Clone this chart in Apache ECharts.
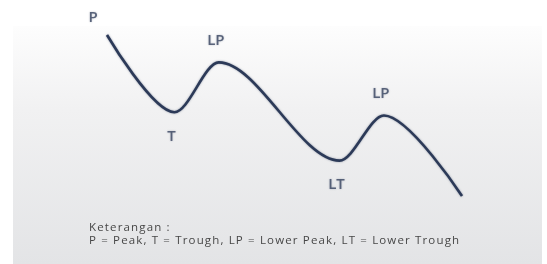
<!DOCTYPE html>
<html>
<head>
<meta charset="utf-8">
<script src="https://cdn.jsdelivr.net/npm/echarts@6/dist/echarts.min.js"></script>
<style>
  html, body { margin: 0; padding: 0; background: #fff; }
  #chart { width: 547px; height: 264px; }
</style>
</head>
<body>
<div id="chart"></div>
<script>
// waktu (sumbu x) dan harga (sumbu y): titik awal, T, LP, LT, LP, titik akhir
const times = [0, 19, 31.5, 65.5, 78, 100];
const prices = [100, 52, 83, 22, 50, 0];
const pointLabels = ['P', 'T', 'LP', 'LT', 'LP', ''];
const legendTitle = 'Keterangan :';
const legendText = 'P = Peak, T = Trough, LP = Lower Peak, LT = Lower Trough';

// jarak antar huruf (hair space)
function spaced(str) {
  return str.split('').join('\u200A');
}

const chart = echarts.init(document.getElementById('chart'), null, { renderer: 'canvas' });

const labelFont = {
  fontFamily: 'Open Sans',
  fontWeight: 600,
  fontSize: 15,
  color: '#3a4662',
  textShadowColor: 'rgba(58,70,98,0.45)',
  textShadowBlur: 2
};

const lineData = times.map((t, i) => [t, prices[i]]);

const labelData = times.map((t, i) => {
  const name = pointLabels[i];
  const isLow = name === 'T' || name === 'LT';
  return {
    value: [t, prices[i]],
    label: {
      show: name !== '',
      formatter: name,
      position: isLow ? 'bottom' : 'top',
      distance: name === 'P' ? 9 : (isLow ? 16 : 14),
      offset: name === 'P' ? [-14, 0] : [-3, 0],
      ...labelFont
    }
  };
});

const option = {
  animation: false,
  graphic: [
    {
      type: 'rect',
      z: -10,
      shape: { x: 13, y: 26, width: 529, height: 238 },
      style: {
        fill: {
          type: 'linear', x: 0, y: 0, x2: 0, y2: 1,
          colorStops: [
            { offset: 0, color: '#fdfdfd' },
            { offset: 0.35, color: '#f1f1f2' },
            { offset: 1, color: '#e3e4e6' }
          ]
        }
      }
    },
    {
      type: 'text',
      left: 89,
      top: 222,
      style: {
        text: spaced(legendTitle),
        font: '11.5px "Open Sans"',
        fill: '#474747'
      }
    },
    {
      type: 'text',
      left: 89,
      top: 235,
      style: {
        text: spaced(legendText),
        font: '11.5px "Open Sans"',
        fill: '#474747'
      }
    }
  ],
  grid: {
    left: 107,
    right: 85,
    top: 35,
    bottom: 68
  },
  xAxis: {
    type: 'value',
    min: 0,
    max: 100,
    show: false
  },
  yAxis: {
    type: 'value',
    min: 0,
    max: 100,
    show: false
  },
  series: [
    {
      type: 'line',
      data: lineData,
      smooth: 0.32,
      smoothMonotone: 'x',
      symbol: 'none',
      clip: false,
      lineStyle: {
        color: '#2c3a58',
        width: 2.6,
        shadowColor: 'rgba(44,58,88,0.5)',
        shadowBlur: 2
      }
    },
    {
      type: 'scatter',
      data: labelData,
      symbolSize: 1,
      clip: false,
      itemStyle: { color: 'rgba(0,0,0,0)' }
    }
  ]
};

chart.setOption(option);
</script>
</body>
</html>
